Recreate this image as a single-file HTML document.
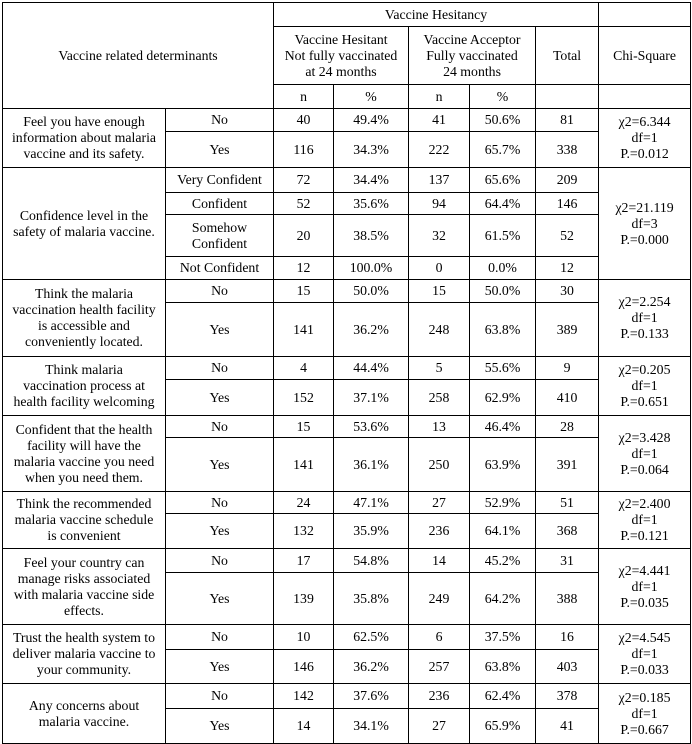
<!DOCTYPE html>
<html><head><meta charset="utf-8"><style>
body{margin:0;background:#fff;width:692px;height:744px;overflow:hidden}
table{position:absolute;left:2px;top:2px;border-collapse:collapse;table-layout:fixed;width:688px;font-family:"Liberation Serif",serif;font-size:13.8px;color:#000}
td{border:1px solid #000;text-align:center;vertical-align:middle;padding:0 1px;line-height:16px;overflow:hidden;white-space:nowrap}
</style></head><body>
<table>
<colgroup><col style="width:163px"><col style="width:108px"><col style="width:60px"><col style="width:75px"><col style="width:61px"><col style="width:66px"><col style="width:63px"><col style="width:92px"></colgroup>
<tr style="height:24px"><td colspan="2" rowspan="3">Vaccine related determinants</td><td colspan="5">Vaccine Hesitancy</td><td></td></tr>
<tr style="height:58px"><td colspan="2">Vaccine Hesitant<br>Not fully vaccinated<br>at 24 months</td><td colspan="2">Vaccine Acceptor<br>Fully vaccinated<br>24 months</td><td>Total</td><td>Chi-Square</td></tr>
<tr style="height:24px"><td>n</td><td>%</td><td>n</td><td>%</td><td></td><td></td></tr>

<tr style="height:23px"><td rowspan="2">Feel you have enough<br>information about malaria<br>vaccine and its safety.</td><td>No</td><td>40</td><td>49.4%</td><td>41</td><td>50.6%</td><td>81</td><td rowspan="2">χ2=6.344<br>df=1<br>P.=0.012</td></tr>
<tr style="height:36px"><td>Yes</td><td>116</td><td>34.3%</td><td>222</td><td>65.7%</td><td>338</td></tr>

<tr style="height:25px"><td rowspan="4">Confidence level in the<br>safety of malaria vaccine.</td><td>Very Confident</td><td>72</td><td>34.4%</td><td>137</td><td>65.6%</td><td>209</td><td rowspan="4">χ2=21.119<br>df=3<br>P.=0.000</td></tr>
<tr style="height:22px"><td>Confident</td><td>52</td><td>35.6%</td><td>94</td><td>64.4%</td><td>146</td></tr>
<tr style="height:42px"><td>Somehow<br>Confident</td><td>20</td><td>38.5%</td><td>32</td><td>61.5%</td><td>52</td></tr>
<tr style="height:23px"><td>Not Confident</td><td>12</td><td>100.0%</td><td>0</td><td>0.0%</td><td>12</td></tr>

<tr style="height:23px"><td rowspan="2">Think the malaria<br>vaccination health facility<br>is accessible and<br>conveniently located.</td><td>No</td><td>15</td><td>50.0%</td><td>15</td><td>50.0%</td><td>30</td><td rowspan="2">χ2=2.254<br>df=1<br>P.=0.133</td></tr>
<tr style="height:54px"><td>Yes</td><td>141</td><td>36.2%</td><td>248</td><td>63.8%</td><td>389</td></tr>

<tr style="height:23px"><td rowspan="2">Think malaria<br>vaccination process at<br>health facility welcoming</td><td>No</td><td>4</td><td>44.4%</td><td>5</td><td>55.6%</td><td>9</td><td rowspan="2">χ2=0.205<br>df=1<br>P.=0.651</td></tr>
<tr style="height:36px"><td>Yes</td><td>152</td><td>37.1%</td><td>258</td><td>62.9%</td><td>410</td></tr>

<tr style="height:22px"><td rowspan="2">Confident that the health<br>facility will have the<br>malaria vaccine you need<br>when you need them.</td><td>No</td><td>15</td><td>53.6%</td><td>13</td><td>46.4%</td><td>28</td><td rowspan="2">χ2=3.428<br>df=1<br>P.=0.064</td></tr>
<tr style="height:54px"><td>Yes</td><td>141</td><td>36.1%</td><td>250</td><td>63.9%</td><td>391</td></tr>

<tr style="height:22px"><td rowspan="2">Think the recommended<br>malaria vaccine schedule<br>is convenient</td><td>No</td><td>24</td><td>47.1%</td><td>27</td><td>52.9%</td><td>51</td><td rowspan="2">χ2=2.400<br>df=1<br>P.=0.121</td></tr>
<tr style="height:35px"><td>Yes</td><td>132</td><td>35.9%</td><td>236</td><td>64.1%</td><td>368</td></tr>

<tr style="height:24px"><td rowspan="2">Feel your country can<br>manage risks associated<br>with malaria vaccine side<br>effects.</td><td>No</td><td>17</td><td>54.8%</td><td>14</td><td>45.2%</td><td>31</td><td rowspan="2">χ2=4.441<br>df=1<br>P.=0.035</td></tr>
<tr style="height:52px"><td>Yes</td><td>139</td><td>35.8%</td><td>249</td><td>64.2%</td><td>388</td></tr>

<tr style="height:25px"><td rowspan="2">Trust the health system to<br>deliver malaria vaccine to<br>your community.</td><td>No</td><td>10</td><td>62.5%</td><td>6</td><td>37.5%</td><td>16</td><td rowspan="2">χ2=4.545<br>df=1<br>P.=0.033</td></tr>
<tr style="height:34px"><td>Yes</td><td>146</td><td>36.2%</td><td>257</td><td>63.8%</td><td>403</td></tr>

<tr style="height:25px"><td rowspan="2">Any concerns about<br>malaria vaccine.</td><td>No</td><td>142</td><td>37.6%</td><td>236</td><td>62.4%</td><td>378</td><td rowspan="2">χ2=0.185<br>df=1<br>P.=0.667</td></tr>
<tr style="height:35px"><td>Yes</td><td>14</td><td>34.1%</td><td>27</td><td>65.9%</td><td>41</td></tr>
</table>
</body></html>
